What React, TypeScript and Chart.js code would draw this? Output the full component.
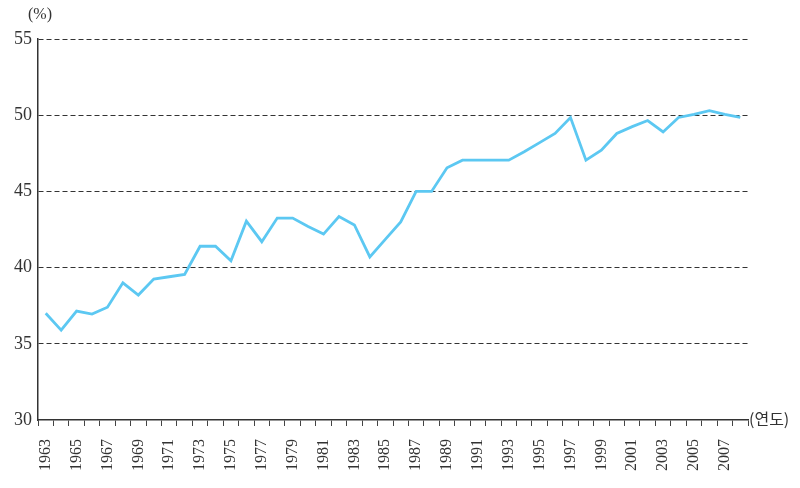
import React, { useEffect, useRef } from "react";
import { Chart, registerables } from "chart.js";

Chart.register(...registerables);

const years: string[] = [
  "1963","1964","1965","1966","1967","1968","1969","1970","1971","1972",
  "1973","1974","1975","1976","1977","1978","1979","1980","1981","1982",
  "1983","1984","1985","1986","1987","1988","1989","1990","1991","1992",
  "1993","1994","1995","1996","1997","1998","1999","2000","2001","2002",
  "2003","2004","2005","2006","2007","2008",
];

const values: number[] = [
  37.0, 35.9, 37.15, 36.95, 37.4, 39.0, 38.2, 39.25, 39.4, 39.55,
  41.4, 41.4, 40.45, 43.05, 41.7, 43.25, 43.25, 42.7, 42.2, 43.35,
  42.8, 40.7, 41.85, 43.0, 45.0, 45.0, 46.55, 47.05, 47.05, 47.05,
  47.05, 47.6, 48.2, 48.8, 49.85, 47.05, 47.7, 48.8, 49.25, 49.65,
  48.9, 49.85, 50.05, 50.3, 50.05, 49.85,
];

const yTicks: number[] = [30, 35, 40, 45, 50, 55];
const yUnit = "(%)";
const xUnit = "(연도)";

const FONT = "'Liberation Serif', 'DejaVu Serif', serif";

export default function App() {
  const ref = useRef<HTMLCanvasElement | null>(null);

  useEffect(() => {
    if (!ref.current) return;
    const unitPlugin = {
      id: "units",
      afterDraw(chart: any) {
        const ctx = chart.ctx;
        const { left, right, bottom } = chart.chartArea;
        ctx.save();
        ctx.fillStyle = "#333";
        ctx.font = `16px ${FONT}`;
        ctx.textBaseline = "middle";
        ctx.textAlign = "left";
        ctx.fillText(yUnit, left - 10, 15);
        ctx.font = `16px 'Noto Sans CJK KR', sans-serif`;
        ctx.fillText(xUnit, right + 1, bottom - 1);
        ctx.restore();
      },
    };
    const chart = new Chart(ref.current, {
      type: "line",
      data: {
        labels: years,
        datasets: [
          {
            data: values,
            borderColor: "#5cc8f2",
            borderWidth: 2.8,
            pointRadius: 0,
            tension: 0,
            fill: false,
          },
        ],
      },
      options: {
        animation: false,
        responsive: false,
        maintainAspectRatio: false,
        layout: { padding: { left: 0, right: 52, top: 39, bottom: 0 } },
        plugins: { legend: { display: false }, tooltip: { enabled: false } },
        scales: {
          x: {
            type: "category",
            offset: true,
            afterFit: (s: any) => {
              s.height = 68;
            },
            grid: {
              offset: true,
              drawOnChartArea: false,
              drawTicks: true,
              tickLength: 6,
              color: "#444",
              lineWidth: 1,
            },
            border: { display: true, color: "#333", width: 1.5 },
            ticks: {
              autoSkip: false,
              maxRotation: 90,
              minRotation: 90,
              padding: 13,
              color: "#333",
              font: { family: FONT, size: 16 },
              callback: (_v: any, i: number) => (i % 2 === 0 ? years[i] : ""),
            },
          },
          y: {
            min: 30,
            max: 55,
            afterFit: (s: any) => {
              s.width = 38;
            },
            afterBuildTicks: (s: any) => {
              s.ticks = yTicks.map((v) => ({ value: v }));
            },
            grid: {
              drawTicks: false,
              color: (c: any) => (c.tick && c.tick.value === 30 ? "rgba(0,0,0,0)" : "#333"),
              lineWidth: 1,
            },
            border: { display: true, color: "#333", width: 1.5, dash: [5, 3] },
            ticks: {
              padding: 6,
              color: "#333",
              font: { family: FONT, size: 18 },
            },
          },
        },
      },
      plugins: [unitPlugin],
    } as any);
    return () => chart.destroy();
  }, []);

  return (
    <div style={{ position: "fixed", left: 0, top: 0, width: 800, height: 488, background: "#fff" }}>
      <canvas ref={ref} width={800} height={488} style={{ width: 800, height: 488 }} />
    </div>
  );
}
